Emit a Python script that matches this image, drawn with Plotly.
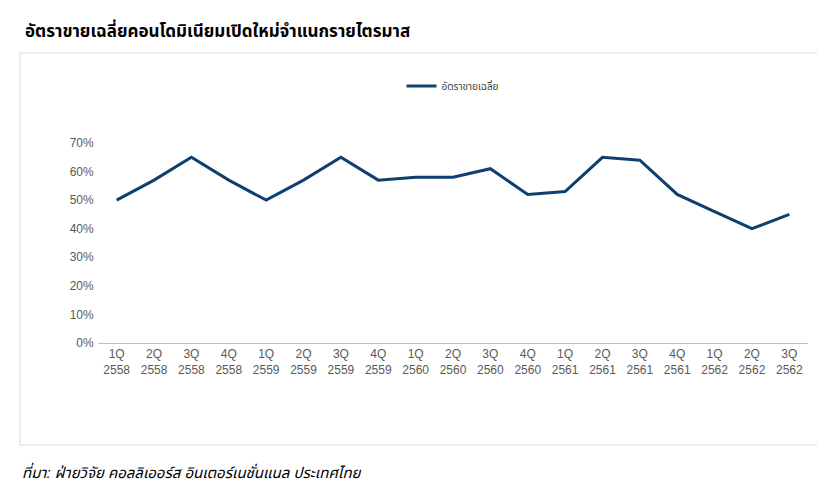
import plotly.graph_objects as go

quarters = ["1Q", "2Q", "3Q", "4Q", "1Q", "2Q", "3Q", "4Q", "1Q", "2Q", "3Q", "4Q",
            "1Q", "2Q", "3Q", "4Q", "1Q", "2Q", "3Q"]
years = ["2558"] * 4 + ["2559"] * 4 + ["2560"] * 4 + ["2561"] * 4 + ["2562"] * 3
sales_rate = [0.50, 0.57, 0.65, 0.57, 0.50, 0.57, 0.65, 0.57, 0.58, 0.58, 0.61, 0.52,
              0.53, 0.65, 0.64, 0.52, 0.46, 0.40, 0.45]

labels = [q + "<br>" + y for q, y in zip(quarters, years)]
xpos = list(range(len(labels)))
fnt = "'Liberation Sans', Tahoma, 'Noto Sans Thai', Arial, sans-serif"

fig = go.Figure()
fig.add_trace(go.Scatter(x=xpos, y=sales_rate, mode="lines", name="อัตราขายเฉลี่ย",
                         line=dict(color="#0e3f6e", width=3)))

fig.update_layout(
    width=825, height=496, plot_bgcolor="white", paper_bgcolor="white",
    margin=dict(l=90, r=25, t=135, b=161),
    font=dict(family=fnt, color="#595959", size=12),
    showlegend=True,
    legend=dict(orientation="h", x=0.5, xanchor="center", y=1.285, yanchor="middle",
                font=dict(size=10, color="#404040")),
    xaxis=dict(range=[-0.5, len(labels) - 0.5], tickvals=xpos, ticktext=labels,
               showline=True, linecolor="#bfbfbf", ticks="", showgrid=False, zeroline=False,
               tickfont=dict(size=12, color="#595959")),
    yaxis=dict(range=[0, 0.7], dtick=0.1, tickformat=".0%", showgrid=False,
               zeroline=False, ticksuffix=" ", tickfont=dict(size=12, color="#595959")),
    shapes=[dict(type="rect", xref="paper", yref="paper", x0=-0.11, x1=1.031,
                 y0=-0.51, y1=1.45, line=dict(color="#d9d9d9", width=1))],
    annotations=[
        dict(text="<b>อัตราขายเฉลี่ยคอนโดมิเนียมเปิดใหม่จำแนกรายไตรมาส</b>", xref="paper", yref="paper",
             x=-0.105, y=1.565, xanchor="left", yanchor="middle", showarrow=False,
             font=dict(size=17, color="#000000")),
        dict(text="<i>ที่มา: ฝ่ายวิจัย คอลลิเออร์ส อินเตอร์เนชั่นแนล ประเทศไทย</i>", xref="paper", yref="paper",
             x=-0.11, y=-0.64, xanchor="left", yanchor="middle", showarrow=False,
             font=dict(size=15, color="#000000")),
    ],
)

fig.write_html("out.html")
